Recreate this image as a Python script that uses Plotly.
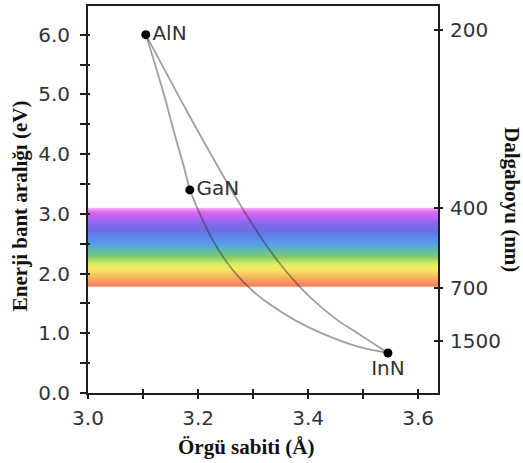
import plotly.graph_objects as go

# ---- data ----
compounds = ["AlN", "GaN", "InN"]
lattice_a = [3.105, 3.185, 3.545]          # Å
band_gap = [6.0, 3.40, 0.67]               # eV
label_pos = ["middle right", "middle right", "bottom center"]

# bowing curves
aln_gan_x = [3.105, 3.122, 3.140, 3.156, 3.173, 3.185]
aln_gan_y = [6.00, 5.50, 4.93, 4.38, 3.83, 3.40]

gan_inn_x = [3.185, 3.207, 3.231, 3.262, 3.298, 3.331, 3.376, 3.422, 3.489, 3.545]
gan_inn_y = [3.40, 2.92, 2.49, 2.07, 1.72, 1.48, 1.22, 1.01, 0.78, 0.67]

aln_inn_x = [3.105, 3.185, 3.225, 3.267, 3.309, 3.340, 3.371, 3.404, 3.449, 3.495, 3.545]
aln_inn_y = [6.00, 4.63, 3.97, 3.30, 2.68, 2.27, 1.92, 1.60, 1.25, 0.97, 0.67]

# visible spectrum band (eV)
band_low = 1.78
band_high = 3.10
band_stops = [0.0, 0.06, 0.13, 0.23, 0.30, 0.39, 0.46, 0.58, 0.73, 0.83, 0.96, 1.0]
band_colors = ["#f8766a", "#f88a60", "#f8b060", "#f8e860", "#e0ee64", "#86cc66",
               "#62c0a2", "#5896f0", "#6670e2", "#9066f0", "#e066f0", "#f2a6f2"]

# axes
x_range = [3.0, 3.636]
y_range = [0.0, 6.48]
x_tickvals = [3.0, 3.2, 3.4, 3.6]
x_ticktext = ["3.0", "3.2", "3.4", "3.6"]
y_tickvals = [0, 1, 2, 3, 4, 5, 6]
y_ticktext = ["0.0", "1.0", "2.0", "3.0", "4.0", "5.0", "6.0"]
wl_tick_energy = [6.08, 3.09, 1.76, 0.87]
wl_ticktext = ["200", "400", "700", "1500"]

x_title = "Örgü sabiti (Å)"
y_title = "Enerji bant aralığı (eV)"
y2_title = "Dalgaboyu (nm)"

tick_font = dict(family="DejaVu Sans", size=20, color="#333333")
title_font = dict(family="Liberation Serif", size=21, color="#111111")
line_col = "rgba(45,45,45,0.45)"
axis_col = "#1e1e1e"

fig = go.Figure()

# spectrum band
fig.add_trace(go.Scatter(
    x=[x_range[0], x_range[1], x_range[1], x_range[0], x_range[0]],
    y=[band_low, band_low, band_high, band_high, band_low],
    mode="lines", line=dict(width=0), fill="toself",
    fillgradient=dict(type="vertical", start=band_low, stop=band_high,
                      colorscale=[[s, c] for s, c in zip(band_stops, band_colors)]),
    hoverinfo="skip", showlegend=False))

for cx, cy in [(aln_gan_x, aln_gan_y), (gan_inn_x, gan_inn_y), (aln_inn_x, aln_inn_y)]:
    fig.add_trace(go.Scatter(x=cx, y=cy, mode="lines",
                             line=dict(color=line_col, width=1.8, shape="spline", smoothing=1.0),
                             hoverinfo="skip", showlegend=False))

fig.add_trace(go.Scatter(
    x=lattice_a, y=band_gap, mode="markers+text", text=compounds,
    textposition=label_pos, textfont=dict(family="DejaVu Sans", size=20, color="#333333"),
    marker=dict(color="black", size=9), showlegend=False))

# helper empty traces so overlay axes are drawn
fig.add_trace(go.Scatter(x=[None], y=[None], xaxis="x2", yaxis="y", showlegend=False, hoverinfo="skip"))
fig.add_trace(go.Scatter(x=[None], y=[None], xaxis="x", yaxis="y2", showlegend=False, hoverinfo="skip"))
fig.add_trace(go.Scatter(x=[None], y=[None], xaxis="x", yaxis="y3", showlegend=False, hoverinfo="skip"))
fig.add_trace(go.Scatter(x=[None], y=[None], xaxis="x", yaxis="y4", showlegend=False, hoverinfo="skip"))

fig.update_layout(
    width=523, height=463,
    margin=dict(l=88, r=85, t=4, b=70),
    paper_bgcolor="white", plot_bgcolor="white",
    xaxis=dict(range=x_range, tickmode="array", tickvals=x_tickvals, ticktext=x_ticktext,
               ticks="outside", ticklen=4, tickwidth=2, tickcolor=axis_col,
               minor=dict(ticks="outside", ticklen=4, tickwidth=2, tickcolor=axis_col,
                          tickmode="linear", tick0=3.0, dtick=0.1),
               showline=True, linewidth=2, linecolor=axis_col, mirror=True,
               showgrid=False, zeroline=False, tickfont=tick_font, ticklabelstandoff=2),
    xaxis2=dict(range=x_range, overlaying="x", anchor="y", side="bottom",
                tickmode="array", tickvals=x_tickvals, ticks="inside", ticklen=4, tickwidth=2,
                tickcolor=axis_col,
                minor=dict(ticks="inside", ticklen=4, tickwidth=2, tickcolor=axis_col,
                           tickmode="linear", tick0=3.0, dtick=0.1),
                showticklabels=False, showline=False, showgrid=False, zeroline=False),
    yaxis=dict(range=y_range, tickmode="array", tickvals=y_tickvals, ticktext=y_ticktext,
               ticks="outside", ticklen=6, tickwidth=2, tickcolor=axis_col,
               minor=dict(ticks="outside", ticklen=6, tickwidth=2, tickcolor=axis_col,
                          tickmode="linear", tick0=0, dtick=0.5),
               showline=True, linewidth=2, linecolor=axis_col, mirror=True,
               showgrid=False, zeroline=False, tickfont=tick_font, ticklabelstandoff=6),
    yaxis2=dict(range=y_range, overlaying="y", side="right", anchor="x",
                tickmode="array", tickvals=wl_tick_energy, ticktext=wl_ticktext,
                ticks="outside", ticklen=4, tickwidth=2, tickcolor=axis_col,
                showline=False, showgrid=False, zeroline=False, tickfont=tick_font,
                ticklabelstandoff=3),
    yaxis3=dict(range=y_range, overlaying="y", side="left", anchor="x",
                tickmode="array", tickvals=y_tickvals, ticks="inside", ticklen=2, tickwidth=2,
                tickcolor=axis_col,
                minor=dict(ticks="inside", ticklen=2, tickwidth=2, tickcolor=axis_col,
                           tickmode="linear", tick0=0, dtick=0.5),
                showticklabels=False, showline=False, showgrid=False, zeroline=False),
    yaxis4=dict(range=y_range, overlaying="y", side="right", anchor="x",
                tickmode="array", tickvals=wl_tick_energy, ticks="inside", ticklen=4, tickwidth=2,
                tickcolor=axis_col,
                showticklabels=False, showline=False, showgrid=False, zeroline=False),
    annotations=[
        dict(text="<b>" + x_title + "</b>", xref="paper", yref="paper", x=0.454, y=-0.139,
             xanchor="center", yanchor="middle", showarrow=False, font=title_font),
        dict(text="<b>" + y_title + "</b>", xref="paper", yref="paper", x=-0.194, y=0.483,
             xanchor="center", yanchor="middle", showarrow=False, font=title_font, textangle=-90),
        dict(text="<b>" + y2_title + "</b>", xref="paper", yref="paper", x=1.211, y=0.499,
             xanchor="center", yanchor="middle", showarrow=False, font=title_font, textangle=90),
    ],
)

fig.write_html("out.html", config={"displayModeBar": False},
               post_script="document.body.style.margin='0';")
